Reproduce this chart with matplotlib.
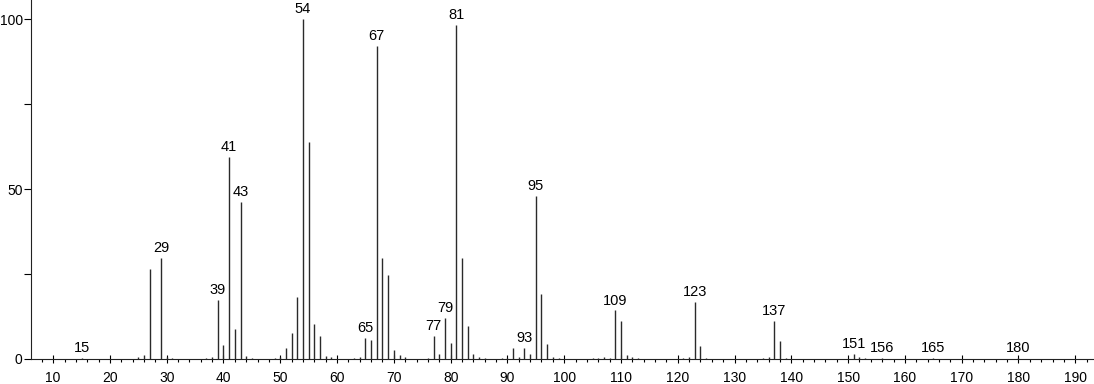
import matplotlib
matplotlib.use("Agg")
import matplotlib.pyplot as plt
from matplotlib.ticker import MultipleLocator

plt.rcParams['font.family'] = ['Liberation Sans', 'DejaVu Sans']

# m/z and relative intensity
mz = [15, 25, 26, 27, 29, 30, 31, 37, 38, 39, 40, 41, 42, 43, 44, 45,
      49, 50, 51, 52, 53, 54, 55, 56, 57, 58, 59, 63, 64, 65, 66, 67,
      68, 69, 70, 71, 72, 76, 77, 78, 79, 80, 81, 82, 83, 84, 85, 86,
      89, 90, 91, 92, 93, 94, 95, 96, 97, 98, 99, 105, 106, 107, 108,
      109, 110, 111, 112, 113, 121, 122, 123, 124, 125, 135, 136, 137,
      138, 139, 151, 152, 153, 156, 165, 180]
intensity = [0.3, 0.5, 1.2, 26.5, 29.8, 0.7, 0.3, 0.3, 0.5, 17.4, 4.1, 59.4,
             8.8, 46.2, 1.0, 0.3, 0.3, 0.5, 3.2, 7.6, 18.3, 100.0, 63.8,
             10.3, 6.8, 1.0, 0.5, 0.3, 0.5, 6.1, 5.5, 92.0, 29.7, 24.6,
             2.6, 1.1, 0.5, 0.3, 6.8, 1.6, 12.0, 4.6, 98.2, 29.8, 9.8, 1.6,
             0.5, 0.3, 0.3, 0.3, 3.1, 0.5, 3.3, 1.5, 47.9, 19.2, 4.3, 0.5,
             0.3, 0.3, 0.3, 0.7, 0.3, 14.3, 11.2, 1.1, 0.5, 0.3, 0.3, 0.5,
             16.8, 3.9, 0.3, 0.3, 0.5, 11.2, 5.3, 0.3, 1.5, 0.5, 0.3, 0.4,
             0.3, 0.3]
labelled = [15, 29, 39, 41, 43, 54, 65, 67, 77, 79, 81, 93, 95, 109, 123,
            137, 151, 156, 165, 180]

fig = plt.figure(figsize=(10.94, 3.84), dpi=100)
ax = fig.add_axes([31 / 1094, 25 / 384, 1 - 31 / 1094, 1 - 25 / 384])

ax.vlines(mz, 0, intensity, colors='#2a2a2a', linewidth=1.0)

for m, h in zip(mz, intensity):
    if m in labelled:
        ax.annotate(str(m), (m, h), xytext=(0, 2), textcoords='offset points',
                    ha='center', va='bottom', fontsize=10.5, color='black')

ax.set_xlim(6.1, 193.3)
ax.set_ylim(0, 105.6)

ax.xaxis.set_major_locator(MultipleLocator(10))
ax.xaxis.set_minor_locator(MultipleLocator(2))
ax.set_yticks([0, 25, 50, 75, 100])
ax.set_yticklabels(['0', '', '50', '', '100'])

ax.tick_params(axis='x', which='major', direction='inout', length=6, width=0.8,
               labelsize=10, pad=6)
ax.tick_params(axis='x', which='minor', direction='out', length=2.5, width=0.8)
ax.tick_params(axis='y', direction='out', length=5, width=0.8, labelsize=10, pad=1)

for side in ['top', 'right']:
    ax.spines[side].set_visible(False)
for side in ['left', 'bottom']:
    ax.spines[side].set_linewidth(0.8)
    ax.spines[side].set_color('#222222')

fig.savefig('out.png', dpi=100)
